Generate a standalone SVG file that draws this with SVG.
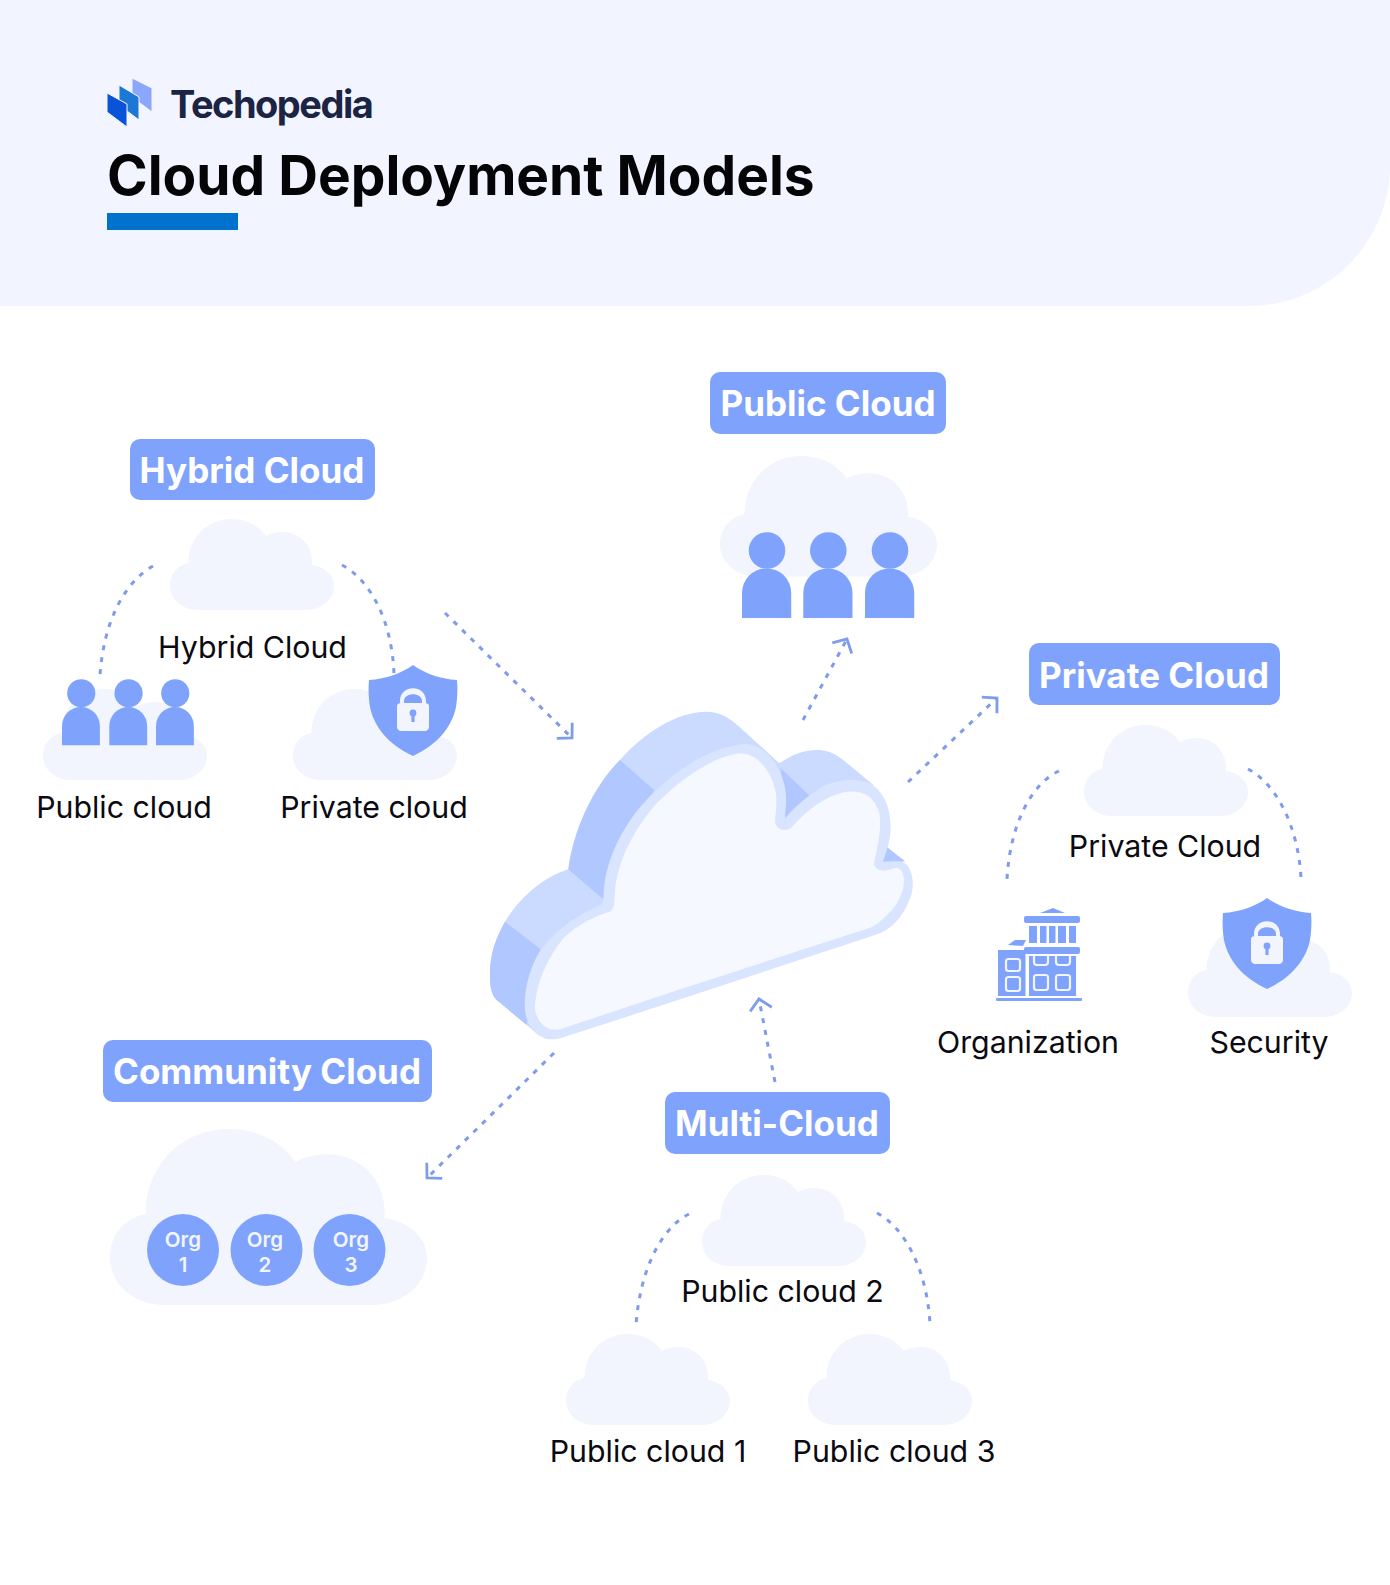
<svg xmlns="http://www.w3.org/2000/svg" width="1390" height="1585" viewBox="0 0 1390 1585">
<style>
text{font-family:Inter,"Noto Sans","Liberation Sans",sans-serif}
.cl{fill:#f2f5fe}
.bb{fill:#7fa2fd}
.bt{font-size:35px;font-weight:700;fill:#fff;text-anchor:middle}
.lb{font-size:30.3px;font-weight:400;fill:#0a0a10;text-anchor:middle}
.og{font-size:20.5px;font-weight:600;fill:#f2f5fe;text-anchor:middle}
.da{fill:none;stroke:#7f9bec;stroke-width:3;stroke-dasharray:5 7;stroke-linecap:butt}
.ar{marker-end:url(#head)}
</style>
<defs>
<marker id="head" markerUnits="userSpaceOnUse" markerWidth="30" markerHeight="30" refX="15" refY="15" orient="auto" overflow="visible">
<path d="M4.5 4 L15 15 L4.5 26" fill="none" stroke="#7f9bec" stroke-width="2.8"/>
</marker>
<path id="cloud" d="M28 91C12 91 0 80 0 67C0 54 8 46 18.500 44C18.500 18 38 0 61.500 0C77 0 89 7 96 17C101 14 107 13 113 13C129 13 142 26 142 42L142 46C155 48 164 56 164 67C164 80 152 91 136 91Z"/>
<g id="person"><circle cx="25" cy="18.5" r="18.3" class="bb"/><path class="bb" d="M0 86V61A24.6 24.6 0 0 1 49.2 61V86Z"/></g>
<g id="shield">
<path class="bb" d="M44 0C55 8 71 14 88 15C89 25 88 36 87 42C83 62 68 80 44 91C20 80 5 62 1 42C0 36 -1 25 0 15C17 14 33 8 44 0Z"/>
<path d="M31 38V36C31 19 57 19 57 36V38H53V36C53 27 35 27 35 36V38Z" fill="#f2f5fe"/>
<path d="M28 41C28 39 30 38 32 38H56C58 38 60 39 60 41V62C60 64 58 66 56 66H32C30 66 28 64 28 62Z" fill="#f2f5fe"/>
<circle cx="44" cy="48" r="3.4" class="bb"/><rect x="42.4" y="49" width="3.2" height="8" class="bb"/>
</g>
</defs>
<rect width="1390" height="1585" fill="#fff"/>
<g id="header">
<path d="M0 0H1390V165C1390 240 1330 306 1248 306H0Z" fill="#f2f5ff"/>
<g id="logo" stroke="#f2f5ff" stroke-width="1">
<path d="M132 78L152 88V112L132 97Z" fill="#8ba6fb"/>
<path d="M119 85L139 97V120L119 105Z" fill="#1c78d4"/>
<path d="M107 93L127 104V127L107 112Z" fill="#0a52d8"/>
</g>
<text x="170" y="118" font-size="38" font-weight="700" letter-spacing="-1.5" fill="#1c2444">Techopedia</text>
<text x="107" y="195" font-size="55" font-weight="700" fill="#050508">Cloud Deployment Models</text>
<rect x="107" y="213" width="131" height="17" fill="#0072ce"/>
</g>
<g id="connectors">
<path class="da ar" d="M445 613L572 738"/>
<path class="da ar" d="M803 720L847 639"/>
<path class="da ar" d="M908 782L997 698"/>
<path class="da ar" d="M775 1082L759 999"/>
<path class="da ar" d="M554 1053L427 1178"/>
<path class="da" d="M153 566C125 582 104 620 100 675"/>
<path class="da" d="M342 565C370 580 392 620 394 674"/>
<path class="da" d="M1059 771C1031 784 1010 825 1007 879"/>
<path class="da" d="M1248 769C1276 784 1298 825 1301 878"/>
<path class="da" d="M689 1214C661 1228 640 1270 636 1325"/>
<path class="da" d="M877 1213C905 1228 927 1270 930 1324"/>
</g>
<g id="main-cloud" transform="translate(470 690) scale(.33333)">
<path fill="#cbdaff" d="M60 860C58 790 80 740 105 695C145 630 210 565 295 538C310 420 370 290 450 210C520 130 620 65 710 65C750 65 780 85 805 108L928 220C970 190 1010 178 1050 180C1080 182 1100 195 1120 210L1210 285L900 700L240 1048C210 1045 190 1020 170 1005L80 930C65 915 60 890 60 860Z"/>
<path fill="#b0c7ff" d="M105 695L212 778L170 1005L80 930C65 915 60 890 60 860C58 790 80 740 105 695Z"/>
<path fill="#b0c7ff" d="M450 210L552 300L400 628L295 538C310 420 370 290 450 210Z"/>
<path fill="#b0c7ff" d="M932 235L1022 320L945 395Z"/>
<path fill="#b0c7ff" d="M1250 470L1305 514L1236 522Z"/>
<path fill="#d9e4ff" d="M165 960C160 900 180 830 212 780C260 715 330 670 398 642C402 625 400 600 405 570C425 460 490 360 570 290C640 225 740 165 830 162C890 165 945 240 948 320C950 340 945 365 945 385C975 350 1010 320 1050 295C1090 270 1140 265 1185 275C1235 290 1262 345 1262 410C1262 450 1250 485 1238 515C1265 515 1290 510 1305 520C1330 540 1335 590 1320 625C1300 680 1265 720 1215 735L640 925L280 1042C250 1052 225 1048 205 1035C180 1015 168 990 165 960Z"/>
<path fill="#f5f8ff" d="M195 960C195 900 220 820 280 745C320 705 380 675 420 665C435 655 432 640 435 600C445 510 490 420 560 340C620 280 720 200 810 190C860 190 905 240 918 310C922 345 916 375 915 395C918 418 945 428 965 412C1010 360 1070 315 1130 305C1180 300 1215 320 1228 370C1236 420 1222 470 1212 520C1215 542 1240 548 1270 535C1290 528 1300 545 1302 570C1302 620 1270 670 1205 712L640 895L270 1018C235 1025 205 1005 195 960Z"/>
</g>
<g id="hybrid-cloud">
<rect class="bb" x="130" y="439" width="245" height="61" rx="10"/>
<text class="bt" x="252" y="483">Hybrid Cloud</text>
<use href="#cloud" class="cl" x="170" y="519"/>
<text class="lb" x="252.500" y="658">Hybrid Cloud</text>
<use href="#cloud" class="cl" x="43" y="689"/>
<use href="#person" transform="translate(62 679) scale(.77)"/>
<use href="#person" transform="translate(109.300 679) scale(.77)"/>
<use href="#person" transform="translate(156 679) scale(.77)"/>
<text class="lb" x="124" y="818">Public cloud</text>
<use href="#cloud" class="cl" x="293" y="689"/>
<use href="#shield" x="369" y="665"/>
<text class="lb" x="374" y="818">Private cloud</text>
</g>
<g id="public-cloud">
<rect class="bb" x="710" y="372" width="236" height="62" rx="10"/>
<text class="bt" x="828" y="416">Public Cloud</text>
<use href="#cloud" class="cl" transform="translate(720 456) scale(1.323)"/>
<use href="#person" x="742" y="532"/>
<use href="#person" x="803.300" y="532"/>
<use href="#person" x="865" y="532"/>
</g>
<g id="private-cloud">
<rect class="bb" x="1029" y="643" width="251" height="62" rx="10"/>
<text class="bt" x="1154" y="687.500">Private Cloud</text>
<use href="#cloud" class="cl" x="1084" y="725"/>
<text class="lb" x="1165" y="857">Private Cloud</text>
<g id="organization" class="bb">
<path d="M1040 913L1053 908L1065 913Z"/>
<rect x="1024" y="916" width="56" height="7" rx="2"/>
<rect x="1029" y="926" width="8" height="17"/><rect x="1040" y="926" width="6.500" height="17"/><rect x="1049" y="926" width="6.500" height="17"/><rect x="1058" y="926" width="8" height="17"/><rect x="1069" y="926" width="7" height="17"/>
<rect x="1024" y="947" width="56" height="7" rx="2"/>
<path d="M1029 956H1076V996H1029Z"/>
<path d="M998 950H1025.500V996H998Z"/>
<path d="M1008 945L1015 940H1026L1023 946Z"/>
<rect x="996" y="998" width="86" height="3" rx="1"/>
<g fill="#7fa2fd" stroke="#f2f5fe" stroke-width="2.200">
<rect x="1006" y="959" width="14" height="12" rx="2.500"/><rect x="1006" y="977" width="14" height="14" rx="2.500"/>
<rect x="1034" y="975" width="14" height="15" rx="2.500"/><rect x="1056" y="975" width="14" height="15" rx="2.500"/>
<path d="M1034 956V962C1034 964 1035 965 1037 965H1045C1047 965 1048 964 1048 962V956"/><path d="M1056 956V962C1056 964 1057 965 1059 965H1067C1069 965 1070 964 1070 962V956"/>
</g>
</g>
<text class="lb" x="1028" y="1053">Organization</text>
<use href="#cloud" class="cl" x="1188" y="926"/>
<use href="#shield" x="1223" y="898"/>
<text class="lb" x="1269" y="1053">Security</text>
</g>
<g id="community-cloud">
<rect class="bb" x="103" y="1040" width="329" height="62" rx="10"/>
<text class="bt" x="267" y="1084">Community Cloud</text>
<use href="#cloud" class="cl" transform="translate(110 1129) scale(1.933)"/>
<circle class="bb" cx="183" cy="1250" r="36"/><text class="og" x="183" y="1247">Org</text><text class="og" x="183" y="1272">1</text>
<circle class="bb" cx="266.500" cy="1250" r="36"/><text class="og" x="265" y="1247">Org</text><text class="og" x="265" y="1272">2</text>
<circle class="bb" cx="349.500" cy="1250" r="36"/><text class="og" x="351" y="1247">Org</text><text class="og" x="351" y="1272">3</text>
</g>
<g id="multi-cloud">
<rect class="bb" x="665" y="1092" width="225" height="62" rx="10"/>
<text class="bt" x="777" y="1136">Multi-Cloud</text>
<use href="#cloud" class="cl" x="702" y="1175"/>
<text class="lb" x="782.500" y="1302">Public cloud 2</text>
<use href="#cloud" class="cl" x="566" y="1334"/>
<text class="lb" x="648" y="1462">Public cloud 1</text>
<use href="#cloud" class="cl" x="808" y="1334"/>
<text class="lb" x="894" y="1462">Public cloud 3</text>
</g>
</svg>
